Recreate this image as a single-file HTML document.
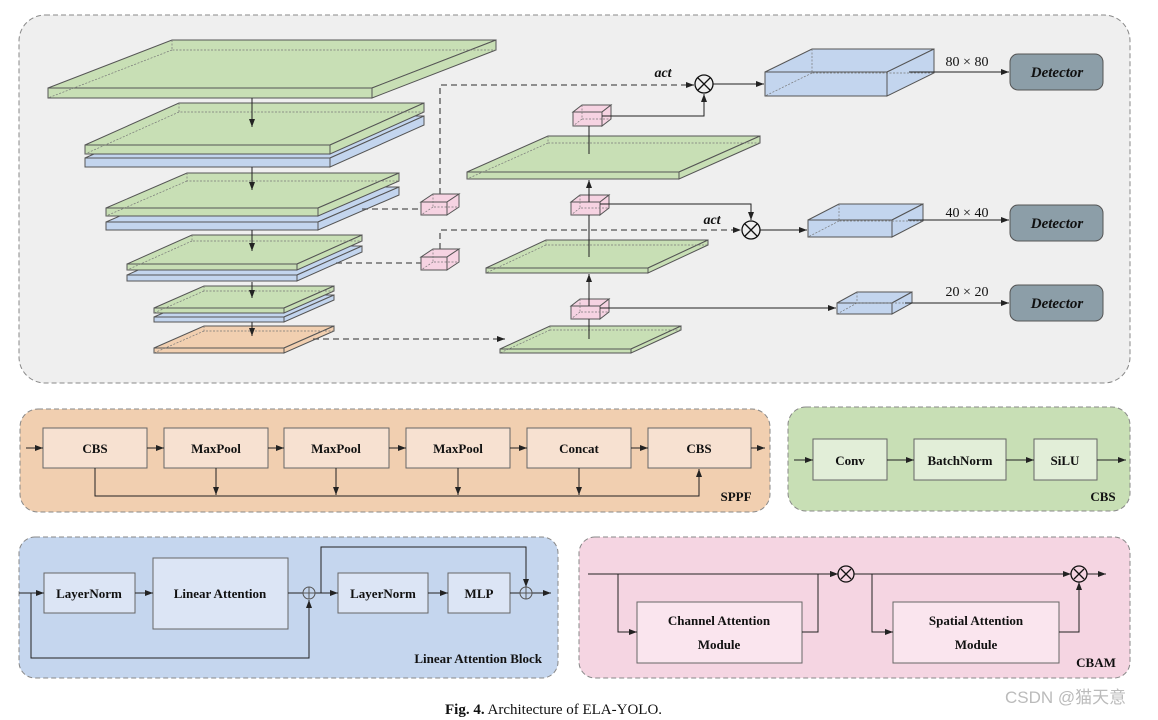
<!DOCTYPE html>
<html><head><meta charset="utf-8"><style>
body{margin:0;background:#fff;width:1158px;height:720px;overflow:hidden}
svg{display:block}
.s{stroke:#555;stroke-width:1}
.d{fill:none;stroke:#777;stroke-width:0.7;stroke-dasharray:2 1.5}
.g{fill:#c8dfb5}.b{fill:#c3d5ee}.o{fill:#f1cfb0}.p{fill:#f6d3e2}
.ln{fill:none;stroke:#222;stroke-width:1}
.dl{fill:none;stroke:#555;stroke-width:1.3;stroke-dasharray:6 4}
text{font-family:"Liberation Serif",serif;fill:#111}
.bx{font-weight:bold;font-size:13px;text-anchor:middle}
</style></head><body>
<svg width="1158" height="720" viewBox="0 0 1158 720">
<defs><marker id="a" markerWidth="8" markerHeight="6" refX="8" refY="3" orient="auto" markerUnits="userSpaceOnUse"><path d="M0,0L8,3L0,6z" fill="#222"/></marker></defs>

<rect x="19" y="15" width="1111" height="368" rx="26" fill="#efefef" stroke="#888" stroke-dasharray="5 3"/>

<!-- left slabs -->
<g class="s">
<polygon class="g" points="48,88 372,88 496,40 172,40"/><rect class="g" x="48" y="88" width="324" height="10"/><polygon class="g" points="372,88 496,40 496,50 372,98"/>
<polygon class="b" points="85,158 330,158 424,116 179,116"/><rect class="b" x="85" y="158" width="245" height="9"/><polygon class="b" points="330,158 424,116 424,125 330,167"/>
<polygon class="g" points="85,145 330,145 424,103 179,103"/><rect class="g" x="85" y="145" width="245" height="9"/><polygon class="g" points="330,145 424,103 424,112 330,154"/>
<polygon class="b" points="106,222 318,222 399,187 187,187"/><rect class="b" x="106" y="222" width="212" height="8"/><polygon class="b" points="318,222 399,187 399,195 318,230"/>
<polygon class="g" points="106,208 318,208 399,173 187,173"/><rect class="g" x="106" y="208" width="212" height="8"/><polygon class="g" points="318,208 399,173 399,181 318,216"/>
<polygon class="b" points="127,275 297,275 362,246 192,246"/><rect class="b" x="127" y="275" width="170" height="6"/><polygon class="b" points="297,275 362,246 362,252 297,281"/>
<polygon class="g" points="127,264 297,264 362,235 192,235"/><rect class="g" x="127" y="264" width="170" height="6"/><polygon class="g" points="297,264 362,235 362,241 297,270"/>
<polygon class="b" points="154,317 284,317 334,295 204,295"/><rect class="b" x="154" y="317" width="130" height="5"/><polygon class="b" points="284,317 334,295 334,300 284,322"/>
<polygon class="g" points="154,308 284,308 334,286 204,286"/><rect class="g" x="154" y="308" width="130" height="5"/><polygon class="g" points="284,308 334,286 334,291 284,313"/>
<polygon class="o" points="154,348 284,348 334,326 204,326"/><rect class="o" x="154" y="348" width="130" height="5"/><polygon class="o" points="284,348 334,326 334,331 284,353"/>
<!-- right slabs -->
<polygon class="g" points="467,172 679,172 760,136 548,136"/><rect class="g" x="467" y="172" width="212" height="7"/><polygon class="g" points="679,172 760,136 760,143 679,179"/>
<polygon class="g" points="486,268 648,268 708,240 546,240"/><rect class="g" x="486" y="268" width="162" height="5"/><polygon class="g" points="648,268 708,240 708,245 648,273"/>
<polygon class="g" points="500,349 631,349 681,326 550,326"/><rect class="g" x="500" y="349" width="131" height="4"/><polygon class="g" points="631,349 681,326 681,330 631,353"/>
<!-- blue boxes -->
<polygon class="b" points="765,72 887,72 934,49 812,49"/><rect class="b" x="765" y="72" width="122" height="24"/><polygon class="b" points="887,72 934,49 934,73 887,96"/>
<polygon class="b" points="808,220 892,220 923,204 839,204"/><rect class="b" x="808" y="220" width="84" height="17"/><polygon class="b" points="892,220 923,204 923,221 892,237"/>
<polygon class="b" points="837,303 892,303 912,292 857,292"/><rect class="b" x="837" y="303" width="55" height="11"/><polygon class="b" points="892,303 912,292 912,303 892,314"/>
<!-- cubes -->
<polygon class="p" points="421,202 447,202 459,194 433,194"/><rect class="p" x="421" y="202" width="26" height="13"/><polygon class="p" points="447,202 459,194 459,207 447,215"/>
<polygon class="p" points="421,257 447,257 459,249 433,249"/><rect class="p" x="421" y="257" width="26" height="13"/><polygon class="p" points="447,257 459,249 459,262 447,270"/>
<polygon class="p" points="573,112 602,112 611,105 582,105"/><rect class="p" x="573" y="112" width="29" height="14"/><polygon class="p" points="602,112 611,105 611,119 602,126"/>
<polygon class="p" points="571,202 600,202 609,195 580,195"/><rect class="p" x="571" y="202" width="29" height="13"/><polygon class="p" points="600,202 609,195 609,208 600,215"/>
<polygon class="p" points="571,306 600,306 609,299 580,299"/><rect class="p" x="571" y="306" width="29" height="13"/><polygon class="p" points="600,306 609,299 609,312 600,319"/>
</g>
<path class="d" d="M172,40V50H496M172,50L48,98 M179,103V112H424M179,112L85,154 M187,173V181H399M187,181L106,216 M192,235V241H362M192,241L127,270 M204,286V291H334M204,291L154,313 M204,326V331H334M204,331L154,353 M548,136V143H760M548,143L467,179 M546,240V245H708M546,245L486,273 M550,326V330H681M550,330L500,353 M812,49V73H934M812,73L765,96 M839,204V221H923M839,221L808,237 M857,292V303H912M857,303L837,314 M433,194V207H459M433,207L421,215 M433,249V262H459M433,262L421,270 M582,105V119H611M582,119L573,126 M580,195V208H609M580,208L571,215 M580,299V312H609M580,312L571,319"/>

<!-- connectors -->
<g class="ln" marker-end="url(#a)">
<path d="M252,98V127"/><path d="M252,167V190"/><path d="M252,230V251"/><path d="M252,282V298"/><path d="M252,322V336"/>
<path d="M602,116H704V94"/><path d="M589,202V180"/><path d="M600,204H751V220"/><path d="M589,306V274"/><path d="M600,308H836"/>
<path d="M713,84H764"/><path d="M760,230H807"/>
<path d="M909,72H1009"/><path d="M908,220H1009"/><path d="M905,303H1009"/>
</g>
<path class="ln" d="M589,126V154M589,257V215M589,339V319"/>
<g class="dl" marker-end="url(#a)"><path d="M440,194V85H694"/><path d="M440,249V230H741"/><path d="M313,339H505"/></g>
<path class="dl" d="M362,209H421M336,263H421" marker-end="none"/>
<g fill="none" stroke="#111" stroke-width="1.3"><circle cx="704" cy="84" r="9"/><path d="M698,78L710,90M710,78L698,90"/><circle cx="751" cy="230" r="9"/><path d="M745,224L757,236M757,224L745,236"/></g>
<text x="663" y="77" font-style="italic" font-weight="bold" font-size="14" text-anchor="middle">act</text>
<text x="712" y="224" font-style="italic" font-weight="bold" font-size="14" text-anchor="middle">act</text>
<g font-size="14" text-anchor="middle"><text x="967" y="66">80 × 80</text><text x="967" y="217">40 × 40</text><text x="967" y="296">20 × 20</text></g>
<g fill="#8c9ea8" stroke="#555"><rect x="1010" y="54" width="93" height="36" rx="8"/><rect x="1010" y="205" width="93" height="36" rx="8"/><rect x="1010" y="285" width="93" height="36" rx="8"/></g>
<g font-size="15" font-weight="bold" font-style="italic" text-anchor="middle"><text x="1057" y="77">Detector</text><text x="1057" y="228">Detector</text><text x="1057" y="308">Detector</text></g>

<!-- SPPF -->
<rect x="20" y="409" width="750" height="103" rx="18" fill="#f1cfb0" stroke="#888" stroke-dasharray="5 3"/>
<g fill="#f7e1d1" stroke="#666"><rect x="43" y="428" width="104" height="40"/><rect x="164" y="428" width="104" height="40"/><rect x="284" y="428" width="105" height="40"/><rect x="406" y="428" width="104" height="40"/><rect x="527" y="428" width="104" height="40"/><rect x="648" y="428" width="103" height="40"/></g>
<g class="bx"><text x="95" y="453">CBS</text><text x="216" y="453">MaxPool</text><text x="336" y="453">MaxPool</text><text x="458" y="453">MaxPool</text><text x="579" y="453">Concat</text><text x="699" y="453">CBS</text></g>
<g class="ln" marker-end="url(#a)"><path d="M26,448H43"/><path d="M147,448H164"/><path d="M268,448H284"/><path d="M389,448H406"/><path d="M510,448H527"/><path d="M631,448H648"/><path d="M751,448H765"/>
<path d="M216,468V495"/><path d="M336,468V495"/><path d="M458,468V495"/><path d="M579,468V495"/><path d="M95,468V496H699V469"/></g>
<text x="736" y="501" class="bx">SPPF</text>

<!-- CBS -->
<rect x="788" y="407" width="342" height="104" rx="18" fill="#c8dfb5" stroke="#888" stroke-dasharray="5 3"/>
<g fill="#e2eed8" stroke="#666"><rect x="813" y="439" width="74" height="41"/><rect x="914" y="439" width="92" height="41"/><rect x="1034" y="439" width="63" height="41"/></g>
<g class="bx"><text x="850" y="465">Conv</text><text x="960" y="465">BatchNorm</text><text x="1065" y="465">SiLU</text></g>
<g class="ln" marker-end="url(#a)"><path d="M794,460H813"/><path d="M887,460H914"/><path d="M1006,460H1034"/><path d="M1097,460H1126"/></g>
<text x="1103" y="501" class="bx">CBS</text>

<!-- Linear Attention Block -->
<rect x="19" y="537" width="539" height="141" rx="16" fill="#c5d6ee" stroke="#888" stroke-dasharray="5 3"/>
<g stroke="#666"><rect x="44" y="573" width="91" height="40" fill="#dce5f5"/><rect x="153" y="558" width="135" height="71" fill="#dce5f5"/><rect x="338" y="573" width="90" height="40" fill="#dce5f5"/><rect x="448" y="573" width="62" height="40" fill="#dce5f5"/></g>
<g class="bx"><text x="89" y="598">LayerNorm</text><text x="220" y="598">Linear Attention</text><text x="383" y="598">LayerNorm</text><text x="479" y="598">MLP</text></g>
<g class="ln" marker-end="url(#a)"><path d="M19,593H44"/><path d="M135,593H153"/><path d="M315,593H338"/><path d="M428,593H448"/><path d="M532,593H551"/><path d="M31,593V658H309V600"/><path d="M321,593V547H526V587"/></g>
<path class="ln" d="M288,593H303M510,593H520"/>
<g fill="none" stroke="#555"><circle cx="309" cy="593" r="6"/><path d="M303,593H315M309,587V599"/><circle cx="526" cy="593" r="6"/><path d="M520,593H532M526,587V599"/></g>
<text x="542" y="663" class="bx" text-anchor="end" style="text-anchor:end">Linear Attention Block</text>

<!-- CBAM -->
<rect x="579" y="537" width="551" height="141" rx="16" fill="#f5d5e2" stroke="#888" stroke-dasharray="5 3"/>
<g fill="#fae5ee" stroke="#666"><rect x="637" y="602" width="165" height="61"/><rect x="893" y="602" width="166" height="61"/></g>
<g class="bx"><text x="719" y="625">Channel Attention</text><text x="719" y="649">Module</text><text x="976" y="625">Spatial Attention</text><text x="976" y="649">Module</text></g>
<g class="ln" marker-end="url(#a)"><path d="M588,574H838"/><path d="M618,574V632H637"/><path d="M802,632H818V574H838"/><path d="M854,574H1071"/><path d="M872,574V632H893"/><path d="M1059,632H1079V582"/><path d="M1087,574H1106"/></g>
<g fill="none" stroke="#111" stroke-width="1.3"><circle cx="846" cy="574" r="8"/><path d="M841,569L851,579M851,569L841,579"/><circle cx="1079" cy="574" r="8"/><path d="M1074,569L1084,579M1084,569L1074,579"/></g>
<text x="1096" y="667" class="bx">CBAM</text>

<text x="445" y="714" font-size="15"><tspan font-weight="bold">Fig. 4.</tspan>  Architecture of ELA-YOLO.</text>
<text x="1005" y="703" font-size="17" fill="#bbb" style="font-family:'Liberation Sans','Noto Sans CJK SC',sans-serif;fill:#bbb">CSDN @猫天意</text>
</svg>
</body></html>
